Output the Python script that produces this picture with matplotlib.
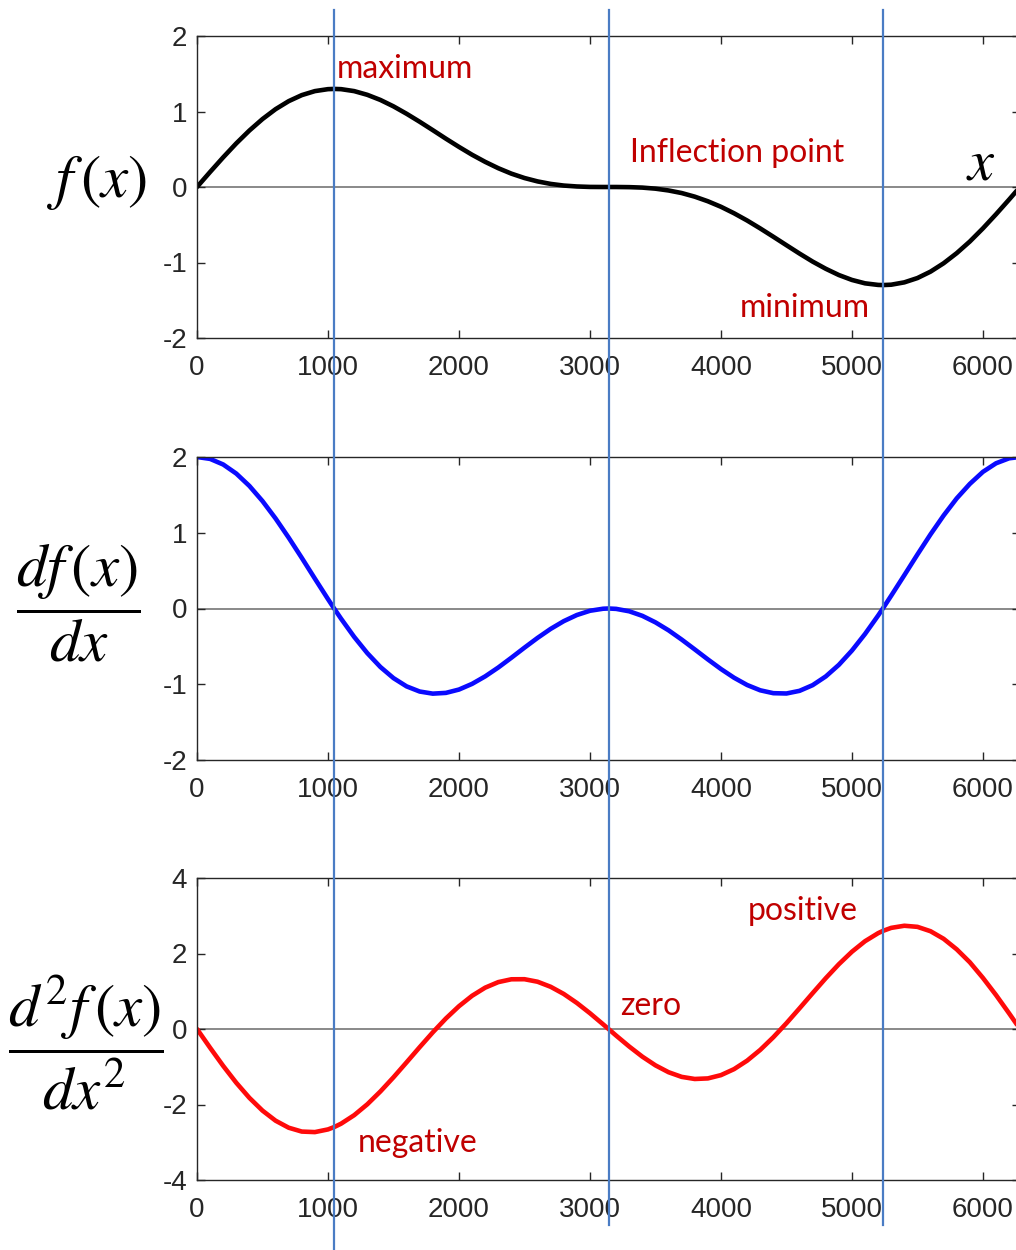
import matplotlib
matplotlib.use("Agg")
import numpy as np
import matplotlib.pyplot as plt
from matplotlib.lines import Line2D
from matplotlib import transforms

plt.rcParams.update({
    "font.family": ["Liberation Sans", "DejaVu Sans"],
    "mathtext.fontset": "stix",
    "axes.unicode_minus": False,
    "xtick.direction": "in",
    "ytick.direction": "in",
    "xtick.top": True,
    "ytick.right": True,
    "axes.linewidth": 1.0,
    "axes.edgecolor": "#262626",
    "xtick.color": "#262626",
    "ytick.color": "#262626",
})

# values read at x = 0, 200, ... plus the special points
x_a = [0, 200, 400, 600, 800, 1000, 1047, 1200, 1400, 1600, 1800, 2000,
       2200, 2400, 2600, 2800, 3000, 3142, 3200, 3400, 3600, 3800, 4000,
       4200, 4400, 4600, 4800, 5000, 5200, 5236, 5400, 5600, 5800, 6000,
       6200, 6283]
f_a = [0, 0.393, 0.748, 1.031, 1.217, 1.296, 1.299, 1.270, 1.153, 0.970,
       0.753, 0.531, 0.333, 0.177, 0.074, 0.019, 0.001, 0.000, 0.000,
       -0.008, -0.046, -0.128, -0.262, -0.444, -0.659, -0.882, -1.083,
       -1.231, -1.297, -1.299, -1.263, -1.121, -0.876, -0.548, -0.166, 0.0]
df_a = [2.0, 1.901, 1.618, 1.188, 0.668, 0.124, 0.000, -0.375, -0.772,
        -1.028, -1.124, -1.070, -0.896, -0.650, -0.388, -0.167, -0.030,
        0.000, -0.005, -0.097, -0.288, -0.540, -0.799, -1.010, -1.118,
        -1.087, -0.897, -0.555, -0.093, 0.000, 0.440, 0.979, 1.454, 1.804,
        1.983, 2.0]
d2f_a = [0, -0.978, -1.824, -2.429, -2.717, -2.660, -2.598, -2.283, -1.655,
         -0.883, -0.089, 0.604, 1.095, 1.317, 1.252, 0.928, 0.418, 0.000,
         -0.175, -0.733, -1.145, -1.324, -1.222, -0.838, -0.218, 0.548,
         1.345, 2.047, 2.539, 2.598, 2.735, 2.590, 2.110, 1.353, 0.414, 0.0]

# values read in between, at x = 100, 300, ...
x_b = [100, 300, 500, 700, 900, 1100, 1300, 1500, 1700, 1900, 2100, 2300,
       2500, 2700, 2900, 3100, 3300, 3500, 3700, 3900, 4100, 4300, 4500,
       4700, 4900, 5100, 5300, 5500, 5700, 5900, 6100]
f_b = [0.199, 0.578, 0.900, 1.137, 1.270, 1.296, 1.221, 1.068, 0.864, 0.640,
       0.427, 0.249, 0.119, 0.041, 0.007, 0.000, -0.002, -0.022, -0.080,
       -0.189, -0.348, -0.549, -0.771, -0.988, -1.166, -1.276, -1.294,
       -1.206, -1.010, -0.722, -0.361]
df_b = [1.975, 1.781, 1.418, 0.935, 0.394, -0.135, -0.589, -0.919, -1.096,
        -1.114, -0.995, -0.779, -0.517, -0.269, -0.086, -0.003, -0.037,
        -0.183, -0.410, -0.672, -0.914, -1.080, -1.122, -1.012, -0.744,
        -0.336, 0.170, 0.713, 1.228, 1.645, 1.917]
d2f_b = [-0.497, -1.425, -2.162, -2.615, -2.731, -2.508, -1.995, -1.280,
         -0.481, 0.278, 0.880, 1.242, 1.319, 1.118, 0.690, 0.125, -0.465,
         -0.963, -1.268, -1.309, -1.063, -0.553, 0.153, 0.950, 1.716, 2.326,
         2.679, 2.706, 2.389, 1.767, 0.899]

marker_x = [1047, 3142, 5236]          # maximum, inflection, minimum
x_ticks = [0, 1000, 2000, 3000, 4000, 5000, 6000]

order = np.argsort(x_a + x_b)
x_vals = np.array(x_a + x_b)[order]
f_vals = np.array(f_a + f_b)[order]
df_vals = np.array(df_a + df_b)[order]
d2f_vals = np.array(d2f_a + d2f_b)[order]

W, H = 1016, 1250
fig = plt.figure(figsize=(W / 100, H / 100), dpi=100)

def px_box(top, bottom, left=197, right=1020):
    return [left / W, 1 - bottom / H, (right - left) / W, (bottom - top) / H]

panels = [
    (px_box(36, 338), f_vals, "black", (-2, 2), [-2, -1, 0, 1, 2]),
    (px_box(457, 760), df_vals, "#0a0aff", (-2, 2), [-2, -1, 0, 1, 2]),
    (px_box(878, 1180), d2f_vals, "#ff0a0a", (-4, 4), [-4, -2, 0, 2, 4]),
]

axes = []
for box, yv, col, ylim, yt in panels:
    ax = fig.add_axes(box)
    ax.axhline(0, color="#808080", linewidth=1.3, zorder=1)
    ax.plot(x_vals, yv, color=col, linewidth=3.3, solid_joinstyle="round",
            solid_capstyle="round", zorder=2)
    ax.set_xlim(0, 6283)
    ax.set_ylim(*ylim)
    ax.set_xticks(x_ticks)
    ax.set_yticks(yt)
    ax.tick_params(axis="x", labelsize=20, length=6, width=1, pad=12)
    ax.tick_params(axis="y", labelsize=20, length=6, width=1, pad=7)
    axes.append(ax)

# full-height vertical guide lines
blend = transforms.blended_transform_factory(axes[0].transData, fig.transFigure)
ends = [0.0, 1 - 1225 / H, 1 - 1225 / H]
for xm, y0 in zip(marker_x, ends):
    fig.add_artist(Line2D([xm, xm], [y0, 1 - 10 / H], transform=blend,
                          color="#4a7cc4", linewidth=1.6, zorder=5))

# y labels
fig.text(97 / W, 1 - 183 / H, r"$f\,(x)$", fontsize=44, ha="center", va="center")
fig.text(78 / W, 1 - 603 / H, r"$\dfrac{df\,(x)}{dx}$", fontsize=44,
         ha="center", va="center")
fig.text(86 / W, 1 - 1043 / H, r"$\dfrac{d^2f\,(x)}{dx^2}$", fontsize=44,
         ha="center", va="center")
fig.text(981 / W, 1 - 165 / H, r"$x$", fontsize=42, ha="center", va="center")

# annotations
red = "#c00000"
notes = [
    ("maximum", 337, 69),
    ("Inflection point", 630, 153),
    ("minimum", 740, 308),
    ("negative", 358, 1143),
    ("zero", 620, 1006),
    ("positive", 748, 911),
]
for txt, px, py in notes:
    fig.text(px / W, 1 - py / H, txt, color=red, fontsize=23,
             family=["Lato", "DejaVu Sans"], ha="left", va="center")

fig.savefig("out.png", dpi=100)
